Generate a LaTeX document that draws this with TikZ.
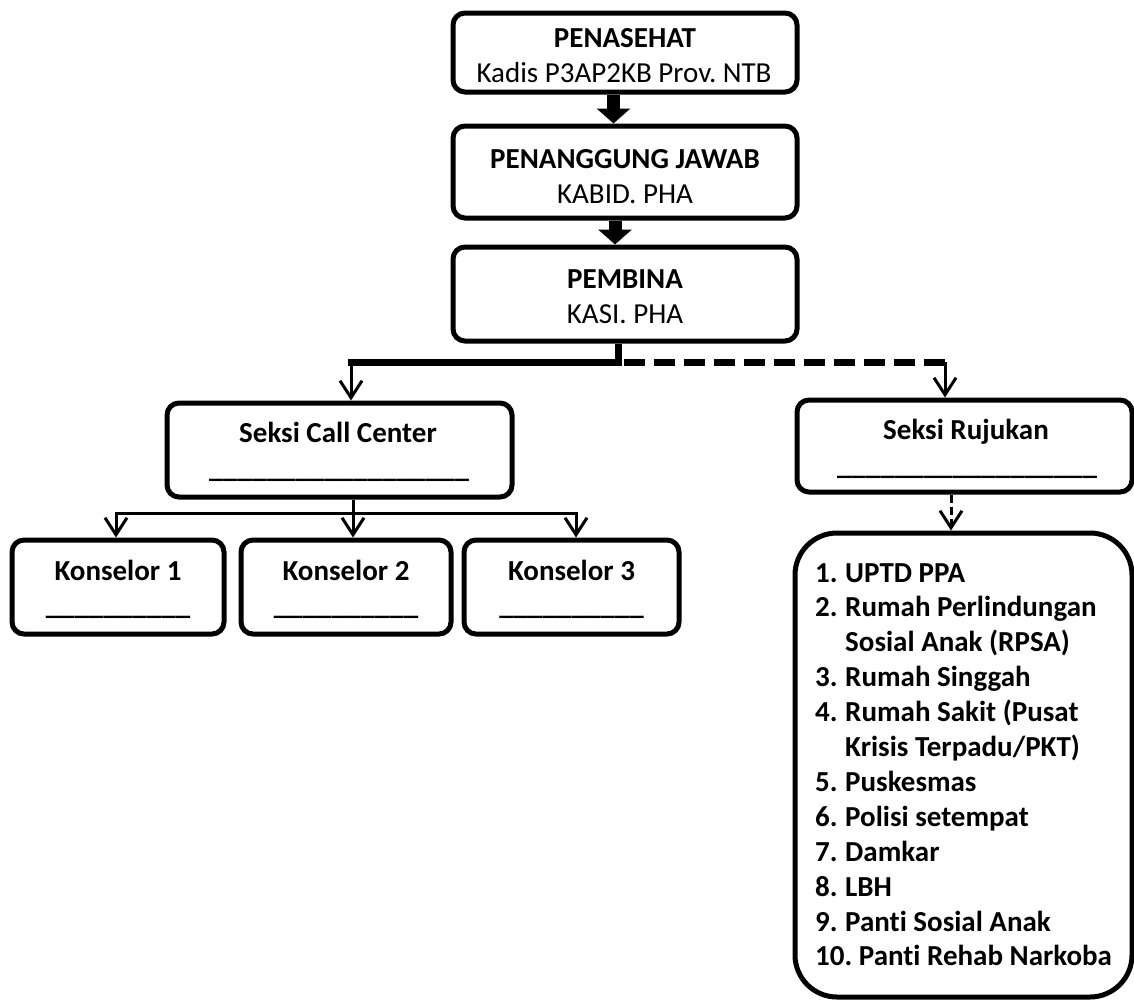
\documentclass[tikz,border=0pt]{standalone}
\usepackage{fontspec}
\setmainfont{Carlito}[Ligatures=NoCommon]
\frenchspacing
\usetikzlibrary{arrows.meta}
\tikzset{
  box/.style={draw, line width=5pt, rounded corners=12pt, inner sep=0pt},
  tn/.style={anchor=base, inner sep=0pt, font=\fontsize{29}{35}\selectfont},
  tb/.style={anchor=base, inner sep=0pt, font=\fontsize{29}{35}\selectfont\bfseries},
  li/.style={anchor=base west, inner sep=0pt, font=\fontsize{29}{35}\selectfont\bfseries},
  thinln/.style={line width=3pt},
  openarr/.style={-{Straight Barb[length=17pt,width=22pt]}},
  blockarr/.style={line width=13pt, -{Triangle[length=15pt,width=33pt]}},
}
\begin{document}
\begin{tikzpicture}[x=1pt,y=-1pt]
\useasboundingbox (0,0) rectangle (1134,1004);
% top boxes
\node[box, minimum width=344pt, minimum height=79pt] (b1) at (625,52.5) {};
\node[tb] (b1a) at (625,47.5) {PENASEHAT};
\node[tn] (b1b) at (624,82.5) {Kadis P3AP2KB Prov. NTB};
\node[box, minimum width=344pt, minimum height=92pt] (b2) at (625,172) {};
\node[tb] (b2a) at (625,168) {PENANGGUNG JAWAB};
\node[tn] (b2b) at (625,203) {KABID. PHA};
\node[box, minimum width=344pt, minimum height=94pt] (b3) at (625,294) {};
\node[tb] (b3a) at (625,288.5) {PEMBINA};
\node[tn] (b3b) at (625,323) {KASI. PHA};
% block arrows
\draw[blockarr] ([xshift=-11.5pt]b1.south) -- ([xshift=-11.5pt]b2.north);
\draw[blockarr] ([xshift=-10pt]b2.south) -- ([xshift=-10pt]b3.north);
% section boxes
\node[box, minimum width=345pt, minimum height=94pt] (scc) at (339.5,450) {};
\node[tb] (scca) at (338,442) {Seksi Call Center};
\node[tb] (sccb) at (339,477) {\_\_\_\_\_\_\_\_\_\_\_\_\_\_\_\_\_\_};
\node[box, minimum width=335pt, minimum height=92pt] (sr) at (964.5,446) {};
\node[tb] (sra) at (966,439) {Seksi Rujukan};
\node[tb] (srb) at (967,474) {\_\_\_\_\_\_\_\_\_\_\_\_\_\_\_\_\_\_};
% konselor boxes
\node[box, minimum width=212pt, minimum height=94pt] (k1) at (118,587) {};
\node[tb] (k1a) at (118,580) {Konselor 1};
\node[tb] (k1b) at (118,614) {\_\_\_\_\_\_\_\_\_\_};
\node[box, minimum width=210pt, minimum height=94pt] (k2) at (346,587) {};
\node[tb] (k2a) at (346,580) {Konselor 2};
\node[tb] (k2b) at (346,614) {\_\_\_\_\_\_\_\_\_\_};
\node[box, minimum width=215pt, minimum height=94pt] (k3) at (571.5,587) {};
\node[tb] (k3a) at (571.5,580) {Konselor 3};
\node[tb] (k3b) at (571.5,614) {\_\_\_\_\_\_\_\_\_\_};
% list box
\node[draw, line width=5pt, rounded corners=42pt, minimum width=337pt, minimum height=464pt, inner sep=0pt] (list) at (963.5,765) {};
\node[li] (l1) at (815,582) {1.};
\node[li] (l1t) at (845,582) {UPTD PPA};
\node[li] (l2) at (815,616.9) {2.};
\node[li] (l2t) at (845,616.9) {Rumah Perlindungan};
\node[li] (l3t) at (845,651.8) {Sosial Anak (RPSA)};
\node[li] (l4) at (815,686.7) {3.};
\node[li] (l4t) at (845,686.7) {Rumah Singgah};
\node[li] (l5) at (815,721.6) {4.};
\node[li] (l5t) at (845,721.6) {Rumah Sakit (Pusat};
\node[li] (l6t) at (845,756.5) {Krisis Terpadu/PKT)};
\node[li] (l7) at (815,791.4) {5.};
\node[li] (l7t) at (845,791.4) {Puskesmas};
\node[li] (l8) at (815,826.3) {6.};
\node[li] (l8t) at (845,826.3) {Polisi setempat};
\node[li] (l9) at (815,861.2) {7.};
\node[li] (l9t) at (845,861.2) {Damkar};
\node[li] (l10) at (815,896.1) {8.};
\node[li] (l10t) at (845,896.1) {LBH};
\node[li] (l11) at (815,931) {9.};
\node[li] (l11t) at (845,931) {Panti Sosial Anak};
\node[li] (l12) at (815,965.9) {10. Panti Rehab Narkoba};
% main connector
\coordinate (j) at (618,362);
\coordinate (jl) at (351,362);
\coordinate (jr) at (945,362);
\draw[line width=7pt] (b3.south -| j) -- (j) -- ([xshift=-3pt]jl);
\draw[line width=7pt, dash pattern=on 21pt off 9pt] ([xshift=6pt]j) -- ([xshift=1.5pt]jr);
\draw[thinln, openarr] (jl) -- (scc.north -| jl);
\draw[thinln, openarr] (jr) -- (sr.north -| jr);
% konselor connector
\coordinate (kc) at (353,513);
\coordinate (ka) at (116,513);
\coordinate (kb) at (576,513);
\draw[thinln] (scc.south -| kc) -- (kc);
\draw[thinln] ([xshift=-1.5pt]ka) -- ([xshift=1.5pt]kb);
\draw[thinln, openarr] (ka) -- (k1.north -| ka);
\draw[thinln, openarr] (kc) -- (k2.north -| kc);
\draw[thinln, openarr] (kb) -- (k3.north -| kb);
% dashed to list
\coordinate (lx) at (951,0);
\draw[thinln, dash pattern=on 8pt off 4pt, openarr] (sr.south -| lx) -- (list.north -| lx);
\end{tikzpicture}
\end{document}
